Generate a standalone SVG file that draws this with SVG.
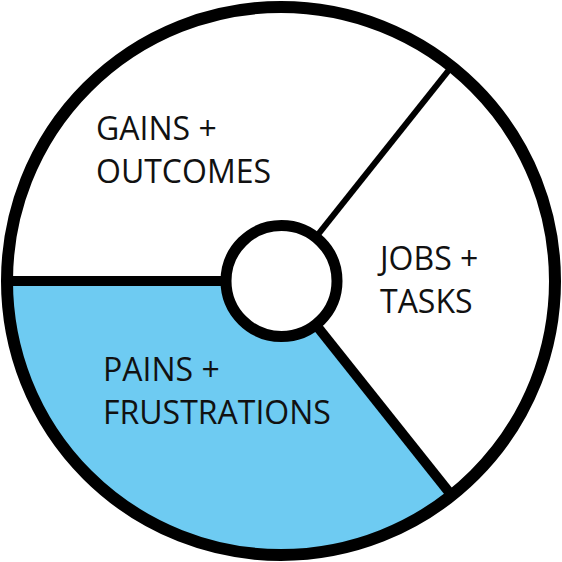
<svg xmlns="http://www.w3.org/2000/svg" width="562" height="562" viewBox="0 0 562 562">
<style>
.lbl{font-family:"Open Sans","Liberation Sans",sans-serif;font-size:32px;fill:#111;}
.ln{stroke:#000;fill:none;}
</style>
<rect width="562" height="562" fill="#fff"/>
<g id="pains-fill">
<path d="M281 281 L7 281 A274 274 0 0 0 451.6 495.4 Z" fill="#6ECBF2"/>
</g>
<g id="connectors">
<line class="ln" x1="281" y1="281" x2="7" y2="281" stroke-width="10"/>
<line class="ln" x1="281" y1="281" x2="451.6" y2="66.6" stroke-width="6"/>
<line class="ln" x1="281" y1="281" x2="451.6" y2="495.4" stroke-width="10"/>
</g>
<g id="outer-ring">
<circle cx="281" cy="281" r="274" fill="none" stroke="#000" stroke-width="12"/>
</g>
<g id="hub">
<circle cx="281.5" cy="281" r="55.5" fill="#fff" stroke="#000" stroke-width="11"/>
</g>
<g id="gains">
<text class="lbl" x="96" y="140">GAINS +</text>
<text class="lbl" x="96" y="183">OUTCOMES</text>
</g>
<g id="jobs">
<text class="lbl" x="380" y="270">JOBS +</text>
<text class="lbl" x="380" y="313">TASKS</text>
</g>
<g id="pains">
<text class="lbl" x="103" y="381">PAINS +</text>
<text class="lbl" x="103" y="424">FRUSTRATIONS</text>
</g>
</svg>
